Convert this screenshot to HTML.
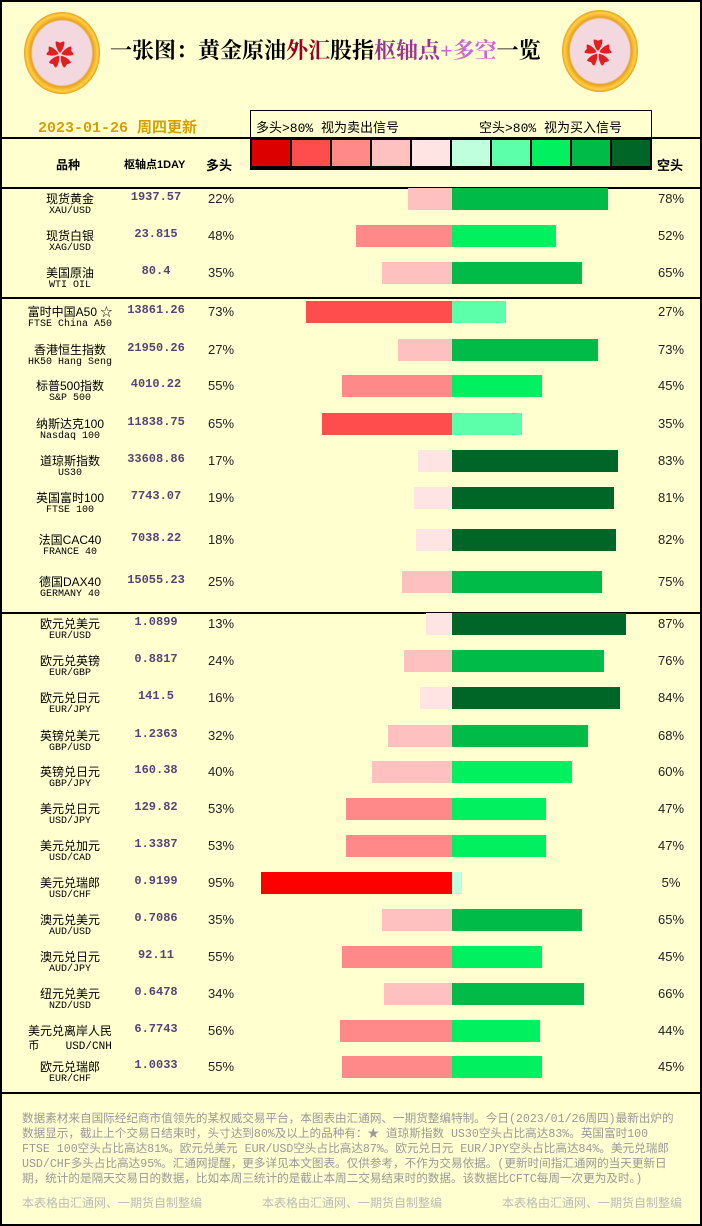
<!DOCTYPE html>
<html><head><meta charset="utf-8"><style>
*{margin:0;padding:0;box-sizing:border-box}
body{width:702px;height:1226px;background:#ffffd0;position:relative;overflow:hidden;font-family:"Liberation Serif","Noto Serif CJK SC",serif}
.frame{position:absolute;left:0;top:0;width:702px;height:1226px;border:2px solid #000}
.a{position:absolute}
.hl{position:absolute;left:0;width:702px;height:2px;background:#000}
.r{position:absolute;left:0;width:702px;height:36px}
.n1{position:absolute;left:0;width:140px;text-align:center;top:9px;font-size:12px;color:#000;font-family:"Liberation Sans","Noto Sans CJK SC",sans-serif}
.n2{position:absolute;left:0;width:140px;text-align:center;top:25px;font-size:10px;color:#000;font-family:"Liberation Mono","Noto Sans CJK SC",monospace}
.pv{position:absolute;left:110px;width:92px;text-align:center;top:9px;font-size:12px;font-weight:bold;color:#554477;font-family:"Liberation Mono",monospace}
.pl{position:absolute;left:200px;width:42px;text-align:center;top:10px;font-size:13px;color:#222;font-family:"Liberation Sans",sans-serif}
.pr{position:absolute;left:650px;width:42px;text-align:center;top:10px;font-size:13px;color:#222;font-family:"Liberation Sans",sans-serif}
.b{position:absolute;top:7px;height:22px}
.logo{position:absolute;width:76px;height:82px;border-radius:50%;background:radial-gradient(ellipse at center,#f3d8e0 55%,#e8a020 58%,#ffd040 66%,#e09010 72%)}
.ft{position:absolute;left:22px;top:1112px;font-size:11.6px;line-height:15px;color:#999;font-family:"Liberation Mono","Noto Sans CJK SC",monospace;white-space:nowrap}
.sig{position:absolute;top:1194px;font-size:12px;color:#bbb;font-family:"Liberation Sans","Noto Sans CJK SC",sans-serif}
</style></head><body>
<div class="logo" style="left:24px;top:12px"></div>
<div class="a" style="left:46px;top:34px;color:#e02020;font-size:28px">✿</div>
<div class="logo" style="left:562px;top:10px"></div>
<div class="a" style="left:584px;top:32px;color:#e02020;font-size:28px">✿</div>
<div class="a" style="left:110px;top:34px;font-size:22px;font-weight:bold;font-family:'Liberation Serif','Noto Serif CJK SC',serif;white-space:nowrap">一张图：黄金原油<span style="color:#990022">外汇</span>股指<span style="color:#993399">枢轴点</span><span style="color:#cc66cc">+多空</span>一览</div>
<div class="a" style="left:38px;top:116px;font-size:15px;color:#d4a000;font-family:'Liberation Mono','Noto Sans CJK SC',monospace;font-weight:bold">2023-01-26 周四更新</div>
<div class="a" style="left:250px;top:110px;width:402px;height:29px;border:1px solid #000;font-size:13px;font-family:'Liberation Mono','Noto Sans CJK SC',monospace"><span style="position:absolute;left:5px;top:6px">多头&gt;80% 视为卖出信号</span><span style="position:absolute;left:228px;top:6px">空头&gt;80% 视为买入信号</span></div>
<div class="hl" style="top:137px"></div>
<div class="a" style="left:250px;top:138px;width:402px;height:32px;background:#000"></div>
<div class="a" style="left:252px;top:140px;width:38px;height:26px;background:#dd0000"></div>
<div class="a" style="left:292px;top:140px;width:38px;height:26px;background:#ff4c4c"></div>
<div class="a" style="left:332px;top:140px;width:38px;height:26px;background:#ff8888"></div>
<div class="a" style="left:372px;top:140px;width:38px;height:26px;background:#ffc0c0"></div>
<div class="a" style="left:412px;top:140px;width:38px;height:26px;background:#ffe4e4"></div>
<div class="a" style="left:452px;top:140px;width:38px;height:26px;background:#c0ffdd"></div>
<div class="a" style="left:492px;top:140px;width:38px;height:26px;background:#5cffaa"></div>
<div class="a" style="left:532px;top:140px;width:38px;height:26px;background:#00f060"></div>
<div class="a" style="left:572px;top:140px;width:38px;height:26px;background:#00bb48"></div>
<div class="a" style="left:612px;top:140px;width:38px;height:26px;background:#006628"></div>
<div class="a" style="left:56px;top:156px;font-size:12px;font-weight:bold;font-family:'Liberation Sans','Noto Sans CJK SC',sans-serif">品种</div>
<div class="a" style="left:124px;top:156px;font-size:11px;font-weight:bold;font-family:'Liberation Sans','Noto Sans CJK SC',sans-serif">枢轴点1DAY</div>
<div class="a" style="left:206px;top:155px;font-size:13px;font-weight:bold;font-family:'Liberation Sans','Noto Sans CJK SC',sans-serif">多头</div>
<div class="a" style="left:657px;top:155px;font-size:13px;font-weight:bold;font-family:'Liberation Sans','Noto Sans CJK SC',sans-serif">空头</div>
<div class="hl" style="top:187px"></div>
<div class="hl" style="top:297px"></div>
<div class="hl" style="top:612px"></div>
<div class="hl" style="top:1092px"></div>

<div class="r" style="top:181px"><div class="n1">现货黄金</div><div class="n2">XAU/USD</div><div class="pv">1937.57</div><div class="pl">22%</div><div class="b" style="left:408px;width:44px;background:#ffc0c0"></div><div class="b" style="left:452px;width:156px;background:#00bb48"></div><div class="pr">78%</div></div>
<div class="r" style="top:218px"><div class="n1">现货白银</div><div class="n2">XAG/USD</div><div class="pv">23.815</div><div class="pl">48%</div><div class="b" style="left:356px;width:96px;background:#ff8888"></div><div class="b" style="left:452px;width:104px;background:#00f060"></div><div class="pr">52%</div></div>
<div class="r" style="top:255px"><div class="n1">美国原油</div><div class="n2">WTI OIL</div><div class="pv">80.4</div><div class="pl">35%</div><div class="b" style="left:382px;width:70px;background:#ffc0c0"></div><div class="b" style="left:452px;width:130px;background:#00bb48"></div><div class="pr">65%</div></div>
<div class="r" style="top:294px"><div class="n1">富时中国A50 ☆</div><div class="n2">FTSE China A50</div><div class="pv">13861.26</div><div class="pl">73%</div><div class="b" style="left:306px;width:146px;background:#ff4c4c"></div><div class="b" style="left:452px;width:54px;background:#5cffaa"></div><div class="pr">27%</div></div>
<div class="r" style="top:332px"><div class="n1">香港恒生指数</div><div class="n2">HK50 Hang Seng</div><div class="pv">21950.26</div><div class="pl">27%</div><div class="b" style="left:398px;width:54px;background:#ffc0c0"></div><div class="b" style="left:452px;width:146px;background:#00bb48"></div><div class="pr">73%</div></div>
<div class="r" style="top:368px"><div class="n1">标普500指数</div><div class="n2">S&amp;P 500</div><div class="pv">4010.22</div><div class="pl">55%</div><div class="b" style="left:342px;width:110px;background:#ff8888"></div><div class="b" style="left:452px;width:90px;background:#00f060"></div><div class="pr">45%</div></div>
<div class="r" style="top:406px"><div class="n1">纳斯达克100</div><div class="n2">Nasdaq 100</div><div class="pv">11838.75</div><div class="pl">65%</div><div class="b" style="left:322px;width:130px;background:#ff4c4c"></div><div class="b" style="left:452px;width:70px;background:#5cffaa"></div><div class="pr">35%</div></div>
<div class="r" style="top:443px"><div class="n1">道琼斯指数</div><div class="n2">US30</div><div class="pv">33608.86</div><div class="pl">17%</div><div class="b" style="left:418px;width:34px;background:#ffe4e4"></div><div class="b" style="left:452px;width:166px;background:#006628"></div><div class="pr">83%</div></div>
<div class="r" style="top:480px"><div class="n1">英国富时100</div><div class="n2">FTSE 100</div><div class="pv">7743.07</div><div class="pl">19%</div><div class="b" style="left:414px;width:38px;background:#ffe4e4"></div><div class="b" style="left:452px;width:162px;background:#006628"></div><div class="pr">81%</div></div>
<div class="r" style="top:522px"><div class="n1">法国CAC40</div><div class="n2">FRANCE 40</div><div class="pv">7038.22</div><div class="pl">18%</div><div class="b" style="left:416px;width:36px;background:#ffe4e4"></div><div class="b" style="left:452px;width:164px;background:#006628"></div><div class="pr">82%</div></div>
<div class="r" style="top:564px"><div class="n1">德国DAX40</div><div class="n2">GERMANY 40</div><div class="pv">15055.23</div><div class="pl">25%</div><div class="b" style="left:402px;width:50px;background:#ffc0c0"></div><div class="b" style="left:452px;width:150px;background:#00bb48"></div><div class="pr">75%</div></div>
<div class="r" style="top:606px"><div class="n1">欧元兑美元</div><div class="n2">EUR/USD</div><div class="pv">1.0899</div><div class="pl">13%</div><div class="b" style="left:426px;width:26px;background:#ffe4e4"></div><div class="b" style="left:452px;width:174px;background:#006628"></div><div class="pr">87%</div></div>
<div class="r" style="top:643px"><div class="n1">欧元兑英镑</div><div class="n2">EUR/GBP</div><div class="pv">0.8817</div><div class="pl">24%</div><div class="b" style="left:404px;width:48px;background:#ffc0c0"></div><div class="b" style="left:452px;width:152px;background:#00bb48"></div><div class="pr">76%</div></div>
<div class="r" style="top:680px"><div class="n1">欧元兑日元</div><div class="n2">EUR/JPY</div><div class="pv">141.5</div><div class="pl">16%</div><div class="b" style="left:420px;width:32px;background:#ffe4e4"></div><div class="b" style="left:452px;width:168px;background:#006628"></div><div class="pr">84%</div></div>
<div class="r" style="top:718px"><div class="n1">英镑兑美元</div><div class="n2">GBP/USD</div><div class="pv">1.2363</div><div class="pl">32%</div><div class="b" style="left:388px;width:64px;background:#ffc0c0"></div><div class="b" style="left:452px;width:136px;background:#00bb48"></div><div class="pr">68%</div></div>
<div class="r" style="top:754px"><div class="n1">英镑兑日元</div><div class="n2">GBP/JPY</div><div class="pv">160.38</div><div class="pl">40%</div><div class="b" style="left:372px;width:80px;background:#ffc0c0"></div><div class="b" style="left:452px;width:120px;background:#00f060"></div><div class="pr">60%</div></div>
<div class="r" style="top:791px"><div class="n1">美元兑日元</div><div class="n2">USD/JPY</div><div class="pv">129.82</div><div class="pl">53%</div><div class="b" style="left:346px;width:106px;background:#ff8888"></div><div class="b" style="left:452px;width:94px;background:#00f060"></div><div class="pr">47%</div></div>
<div class="r" style="top:828px"><div class="n1">美元兑加元</div><div class="n2">USD/CAD</div><div class="pv">1.3387</div><div class="pl">53%</div><div class="b" style="left:346px;width:106px;background:#ff8888"></div><div class="b" style="left:452px;width:94px;background:#00f060"></div><div class="pr">47%</div></div>
<div class="r" style="top:865px"><div class="n1">美元兑瑞郎</div><div class="n2">USD/CHF</div><div class="pv">0.9199</div><div class="pl">95%</div><div class="b" style="left:261px;width:191px;background:#ff0000"></div><div class="b" style="left:452px;width:10px;background:#c0ffdd"></div><div class="pr">5%</div></div>
<div class="r" style="top:902px"><div class="n1">澳元兑美元</div><div class="n2">AUD/USD</div><div class="pv">0.7086</div><div class="pl">35%</div><div class="b" style="left:382px;width:70px;background:#ffc0c0"></div><div class="b" style="left:452px;width:130px;background:#00bb48"></div><div class="pr">65%</div></div>
<div class="r" style="top:939px"><div class="n1">澳元兑日元</div><div class="n2">AUD/JPY</div><div class="pv">92.11</div><div class="pl">55%</div><div class="b" style="left:342px;width:110px;background:#ff8888"></div><div class="b" style="left:452px;width:90px;background:#00f060"></div><div class="pr">45%</div></div>
<div class="r" style="top:976px"><div class="n1">纽元兑美元</div><div class="n2">NZD/USD</div><div class="pv">0.6478</div><div class="pl">34%</div><div class="b" style="left:384px;width:68px;background:#ffc0c0"></div><div class="b" style="left:452px;width:132px;background:#00bb48"></div><div class="pr">66%</div></div>
<div class="r" style="top:1013px"><div class="n1">美元兑离岸人民</div><div class="n2" style="font-size:11px;top:24px">币&nbsp;&nbsp;&nbsp; USD/CNH</div><div class="pv">6.7743</div><div class="pl">56%</div><div class="b" style="left:340px;width:112px;background:#ff8888"></div><div class="b" style="left:452px;width:88px;background:#00f060"></div><div class="pr">44%</div></div>
<div class="r" style="top:1049px"><div class="n1">欧元兑瑞郎</div><div class="n2">EUR/CHF</div><div class="pv">1.0033</div><div class="pl">55%</div><div class="b" style="left:342px;width:110px;background:#ff8888"></div><div class="b" style="left:452px;width:90px;background:#00f060"></div><div class="pr">45%</div></div>

<div class="ft">数据素材来自国际经纪商市值领先的某权威交易平台，本图表由汇通网、一期货整编特制。今日(2023/01/26周四)最新出炉的<br>数据显示，截止上个交易日结束时，头寸达到80%及以上的品种有：★ 道琼斯指数 US30空头占比高达83%。英国富时100<br>FTSE 100空头占比高达81%。欧元兑美元 EUR/USD空头占比高达87%。欧元兑日元 EUR/JPY空头占比高达84%。美元兑瑞郎<br>USD/CHF多头占比高达95%。汇通网提醒，更多详见本文图表。仅供参考，不作为交易依据。(更新时间指汇通网的当天更新日<br>期，统计的是隔天交易日的数据，比如本周三统计的是截止本周二交易结束时的数据。该数据比CFTC每周一次更为及时。)</div>
<div class="sig" style="left:22px">本表格由汇通网、一期货自制整编</div>
<div class="sig" style="left:262px">本表格由汇通网、一期货自制整编</div>
<div class="sig" style="left:502px">本表格由汇通网、一期货自制整编</div>
<div class="frame"></div>
</body></html>
